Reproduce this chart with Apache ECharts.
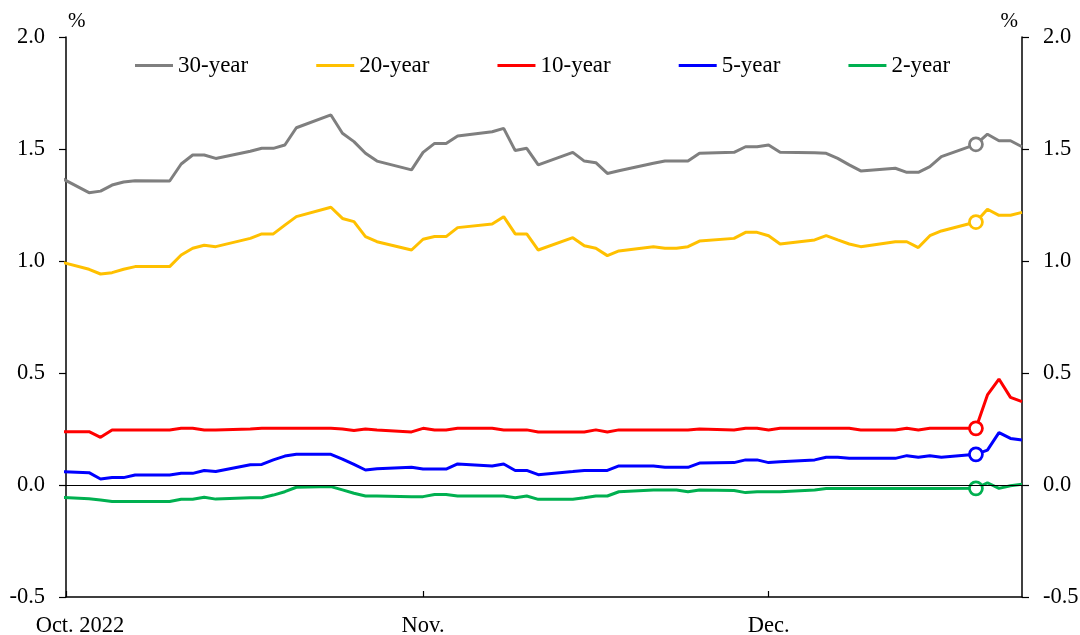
<!DOCTYPE html>
<html>
<head>
<meta charset="utf-8">
<script src="https://cdn.jsdelivr.net/npm/echarts@6/dist/echarts.min.js"></script>
<style>
html,body{margin:0;padding:0;background:#fff;}
#chart{width:1080px;height:635px;}
</style>
</head>
<body>
<div id="chart"></div>
<script>
// ---- data ----
const dates = [
 '2022-09-30',
 '2022-10-03','2022-10-04','2022-10-05','2022-10-06','2022-10-07',
 '2022-10-10','2022-10-11','2022-10-12','2022-10-13','2022-10-14',
 '2022-10-17','2022-10-18','2022-10-19','2022-10-20','2022-10-21',
 '2022-10-24','2022-10-25','2022-10-26','2022-10-27','2022-10-28',
 '2022-10-31','2022-11-01','2022-11-02','2022-11-03','2022-11-04',
 '2022-11-07','2022-11-08','2022-11-09','2022-11-10','2022-11-11',
 '2022-11-14','2022-11-15','2022-11-16','2022-11-17','2022-11-18',
 '2022-11-21','2022-11-22','2022-11-23','2022-11-24','2022-11-25',
 '2022-11-28','2022-11-29','2022-11-30','2022-12-01','2022-12-02',
 '2022-12-05','2022-12-06','2022-12-07','2022-12-08','2022-12-09',
 '2022-12-12','2022-12-13','2022-12-14','2022-12-15','2022-12-16',
 '2022-12-19','2022-12-20','2022-12-21','2022-12-22','2022-12-23'
];
const year30 = [
 1.386,
 1.305,1.312,1.339,1.353,1.358,
 1.357,1.433,1.473,1.473,1.458,
 1.490,1.503,1.503,1.518,1.595,
 1.652,1.570,1.533,1.481,1.446,
 1.407,1.485,1.525,1.525,1.558,
 1.577,1.592,1.493,1.503,1.429,
 1.485,1.446,1.439,1.391,1.403,
 1.436,1.446,1.446,1.446,1.481,
 1.485,1.510,1.510,1.518,1.485,
 1.483,1.481,1.458,1.429,1.402,
 1.414,1.396,1.396,1.421,1.466,
 1.521,1.566,1.537,1.537,1.510
];
const year20 = [
 1.003,
 0.963,0.942,0.948,0.963,0.975,
 0.975,1.027,1.057,1.070,1.064,
 1.101,1.121,1.121,1.160,1.198,
 1.240,1.190,1.176,1.109,1.086,
 1.049,1.097,1.109,1.109,1.149,
 1.165,1.198,1.121,1.121,1.049,
 1.104,1.068,1.057,1.024,1.045,
 1.064,1.057,1.057,1.064,1.089,
 1.101,1.128,1.128,1.113,1.076,
 1.094,1.113,1.094,1.076,1.064,
 1.086,1.086,1.060,1.113,1.134,
 1.174,1.231,1.204,1.204,1.217
];
const year10 = [
 0.238,
 0.238,0.213,0.246,0.246,0.246,
 0.246,0.253,0.253,0.246,0.246,
 0.250,0.253,0.253,0.253,0.253,
 0.253,0.250,0.243,0.250,0.246,
 0.237,0.253,0.246,0.246,0.253,
 0.253,0.246,0.246,0.246,0.237,
 0.237,0.237,0.246,0.237,0.246,
 0.246,0.246,0.246,0.246,0.250,
 0.246,0.253,0.253,0.246,0.253,
 0.253,0.253,0.253,0.253,0.246,
 0.246,0.253,0.246,0.253,0.253,
 0.253,0.402,0.473,0.391,0.372
];
const year5 = [
 0.060,
 0.055,0.027,0.033,0.033,0.045,
 0.045,0.052,0.052,0.065,0.060,
 0.090,0.092,0.112,0.129,0.137,
 0.137,0.116,0.092,0.067,0.073,
 0.079,0.071,0.071,0.071,0.094,
 0.085,0.094,0.065,0.065,0.046,
 0.060,0.065,0.065,0.065,0.085,
 0.085,0.079,0.079,0.079,0.098,
 0.100,0.112,0.112,0.100,0.104,
 0.112,0.124,0.124,0.119,0.119,
 0.119,0.131,0.124,0.131,0.124,
 0.137,0.156,0.234,0.208,0.201
];
const year2 = [
 -0.054,
 -0.061,-0.067,-0.074,-0.074,-0.074,
 -0.074,-0.064,-0.064,-0.055,-0.063,
 -0.057,-0.057,-0.045,-0.030,-0.010,
 -0.007,-0.022,-0.037,-0.049,-0.049,
 -0.052,-0.052,-0.042,-0.042,-0.049,
 -0.049,-0.049,-0.057,-0.049,-0.064,
 -0.064,-0.057,-0.049,-0.049,-0.030,
 -0.022,-0.022,-0.022,-0.030,-0.022,
 -0.025,-0.034,-0.030,-0.030,-0.030,
 -0.022,-0.016,-0.016,-0.016,-0.016,
 -0.016,-0.016,-0.016,-0.016,-0.016,
 -0.015,0.010,-0.015,-0.003,0.003
];
const seriesNames = ['30-year','20-year','10-year','5-year','2-year'];
const tickDates = ['2022-10-01','2022-11-01','2022-12-01'];
const tickLabels = ['Oct. 2022','Nov.','Dec.'];
const xMinDate = '2022-10-01';
const xMaxDate = '2022-12-23';
const markerDate = '2022-12-19';
const yMin = -0.5, yMax = 2.0, yStep = 0.5;

// ---- build chart ----
function ts(s){ const p = s.split('-').map(Number); return new Date(p[0], p[1]-1, p[2]).getTime(); }
const FONT = "'Liberation Serif','Times New Roman',serif";
const colors = ['#7F7F7F','#FFC000','#FF0000','#0000FF','#00B050'];
const allValues = [year30, year20, year10, year5, year2];
const tickTs = tickDates.map(ts);

const series = allValues.map((vals, k) => {
  const c = colors[k];
  const s = {
    name: seriesNames[k],
    type: 'line',
    symbol: 'none',
    showSymbol: true,
    animation: false,
    clip: true,
    z: 3,
    lineStyle: { color: c, width: 3 },
    itemStyle: { color: c },
    emphasis: { disabled: true },
    data: dates.map((d, i) => d === markerDate
      ? { value: [ts(d), vals[i]], symbol: 'circle', symbolSize: 13,
          itemStyle: { color: '#ffffff', borderColor: c, borderWidth: 2.75 } }
      : [ts(d), vals[i]])
  };
  if (k === 0) {
    s.markLine = {
      silent: true, symbol: 'none', animation: false,
      label: { show: false },
      lineStyle: { color: '#000', width: 1.2, type: 'solid' },
      data: [{ yAxis: 0 }]
    };
  }
  return s;
});

const yAxisBase = {
  type: 'value', min: yMin, max: yMax, interval: yStep,
  splitLine: { show: false },
  axisLine: { show: true, onZero: false, lineStyle: { color: '#000', width: 1.5 } },
  axisTick: { show: true, inside: false, length: 7, lineStyle: { color: '#000', width: 1.2 } },
  axisLabel: { color: '#000', fontFamily: FONT, fontSize: 22.5, margin: 21,
               formatter: v => v.toFixed(1) },
  name: '%',
  nameLocation: 'end',
  nameGap: 16
};

const option = {
  backgroundColor: '#ffffff',
  animation: false,
  textStyle: { fontFamily: FONT },
  grid: { left: 66, right: 58, top: 37, bottom: 38, containLabel: false, outerBoundsMode: 'none' },
  legend: {
    data: seriesNames,
    left: 135, top: 54, padding: 0,
    icon: 'rect', itemWidth: 38, itemHeight: 3, itemGap: 68,
    textStyle: { color: '#000', fontFamily: FONT, fontSize: 23 },
    selectedMode: false
  },
  xAxis: {
    type: 'value',
    min: ts(xMinDate), max: ts(xMaxDate),
    splitLine: { show: false },
    axisLine: { show: true, onZero: false, lineStyle: { color: '#000', width: 1.5 } },
    axisTick: { show: true, inside: true, length: 6, customValues: tickTs,
                lineStyle: { color: '#000', width: 1.2 } },
    axisLabel: {
      customValues: tickTs,
      margin: 18,
      color: '#000', fontFamily: FONT, fontSize: 22.5,
      formatter: function (v) {
        let i = -1;
        tickTs.forEach((t, j) => { if (Math.abs(t - v) < 3600000) i = j; });
        const t = i >= 0 ? tickLabels[i] : '';
        return i === 0 ? '{first|' + t + '}' : t;
      },
      rich: { first: { fontFamily: FONT, fontSize: 22.5, color: '#000', padding: [0, 0, 0, 28] } }
    }
  },
  yAxis: [
    Object.assign({}, yAxisBase, {
      position: 'left',
      nameTextStyle: { color: '#000', fontFamily: FONT, fontSize: 21, align: 'left', verticalAlign: 'middle', padding: [0, 0, 0, 2] }
    }),
    Object.assign({}, yAxisBase, {
      position: 'right',
      nameTextStyle: { color: '#000', fontFamily: FONT, fontSize: 21, align: 'right', verticalAlign: 'middle', padding: [0, 4, 0, 0] }
    })
  ],
  series: series
};

const chart = echarts.init(document.getElementById('chart'), null, { renderer: 'canvas' });
chart.setOption(option);
</script>
</body>
</html>
